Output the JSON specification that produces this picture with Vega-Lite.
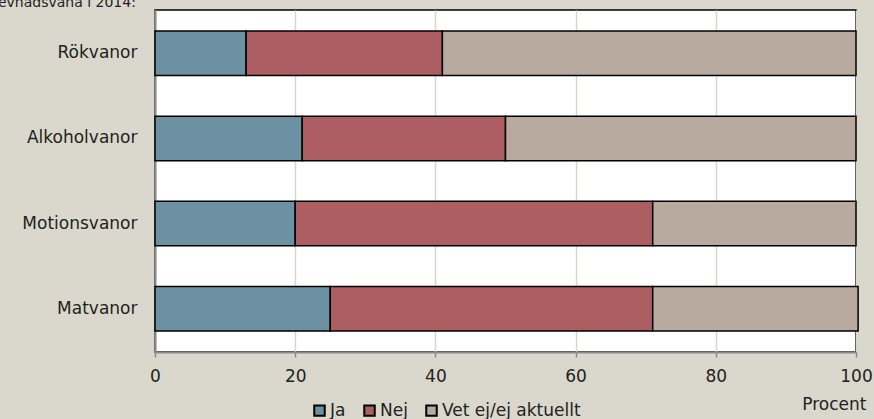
{
  "$schema": "https://vega.github.io/schema/vega-lite/v6.json",
  "autosize": {"type": "none"},
  "width": 701,
  "height": 342,
  "padding": {"left": 155, "top": 10, "right": 18, "bottom": 67},
  "background": "#dad8cc",
  "title": {
    "text": "levnadsvana i 2014:",
    "anchor": "start",
    "frame": "group",
    "orient": "top",
    "baseline": "alphabetic",
    "offset": -11,
    "dx": -161,
    "font": "DejaVu Sans",
    "fontSize": 14,
    "fontWeight": "normal",
    "color": "#222222"
  },
  "data": {
    "values": [
      {"vanor": "Rökvanor", "svar": "Ja", "procent": 13},
      {"vanor": "Rökvanor", "svar": "Nej", "procent": 28},
      {"vanor": "Rökvanor", "svar": "Vet ej/ej aktuellt", "procent": 59},
      {"vanor": "Alkoholvanor\u00a0", "svar": "Ja", "procent": 21},
      {"vanor": "Alkoholvanor\u00a0", "svar": "Nej", "procent": 29},
      {"vanor": "Alkoholvanor\u00a0", "svar": "Vet ej/ej aktuellt", "procent": 50},
      {"vanor": "Motionsvanor", "svar": "Ja", "procent": 20},
      {"vanor": "Motionsvanor", "svar": "Nej", "procent": 51},
      {"vanor": "Motionsvanor", "svar": "Vet ej/ej aktuellt", "procent": 29},
      {"vanor": "Matvanor", "svar": "Ja", "procent": 25},
      {"vanor": "Matvanor", "svar": "Nej", "procent": 46},
      {"vanor": "Matvanor", "svar": "Vet ej/ej aktuellt", "procent": 29.3}
    ]
  },
  "mark": {"type": "bar", "stroke": "#000000", "strokeWidth": 1.5, "clip": false},
  "encoding": {
    "y": {
      "field": "vanor",
      "type": "nominal",
      "sort": null,
      "scale": {"paddingInner": 0.478, "paddingOuter": 0.246},
      "axis": {
        "title": null,
        "ticks": false,
        "labelPadding": 18,
        "labelFont": "DejaVu Sans",
        "labelFontSize": 17,
        "labelColor": "#222222",
        "domainColor": "#8a8a8a",
        "domainWidth": 2,
        "grid": false
      }
    },
    "x": {
      "field": "procent",
      "type": "quantitative",
      "stack": "zero",
      "scale": {"domain": [0, 100], "nice": false},
      "axis": {
        "values": [0, 20, 40, 60, 80, 100],
        "title": "Procent",
        "titleX": 711,
        "titleY": 57,
        "titleAlign": "right",
        "titleBaseline": "alphabetic",
        "titleFont": "DejaVu Sans",
        "titleFontSize": 17,
        "titleFontWeight": "normal",
        "titleColor": "#222222",
        "labelFont": "DejaVu Sans",
        "labelFontSize": 17,
        "labelColor": "#222222",
        "labelPadding": 11,
        "labelFlush": false,
        "domainColor": "#8a8a8a",
        "domainWidth": 2,
        "tickColor": "#8a8a8a",
        "tickSize": 5,
        "tickWidth": 1.5,
        "grid": true,
        "gridColor": "#d8d6ca",
        "gridWidth": 1.5
      }
    },
    "color": {
      "field": "svar",
      "type": "nominal",
      "scale": {
        "domain": ["Ja", "Nej", "Vet ej/ej aktuellt"],
        "range": ["#6b91a3", "#ad5e63", "#b8aa9f"]
      },
      "legend": {
        "title": null,
        "orient": "none",
        "direction": "horizontal",
        "legendX": 156,
        "legendY": 392,
        "padding": 0,
        "symbolType": "square",
        "symbolSize": 110,
        "symbolStrokeColor": "#000000",
        "symbolStrokeWidth": 2,
        "symbolOpacity": 1,
        "labelFont": "DejaVu Sans",
        "labelFontSize": 17,
        "labelColor": "#222222",
        "labelOffset": 2,
        "columnPadding": 14
      }
    }
  },
  "config": {
    "view": {"fill": "#ffffff", "stroke": "#000000", "strokeWidth": 1.5}
  }
}
